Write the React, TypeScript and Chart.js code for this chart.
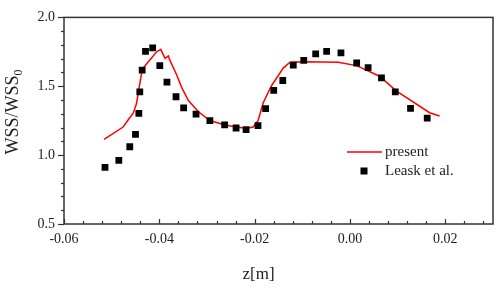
import React, { useEffect, useRef } from 'react';
import { Chart, registerables } from 'chart.js';

Chart.register(...registerables);

// ---- data ----
const presentZ = [-0.0516, -0.0476, -0.0463, -0.0455, -0.0448, -0.0444, -0.0437, -0.0432, -0.042, -0.0406, -0.0397, -0.0388, -0.0381, -0.0378, -0.0364, -0.0353, -0.0339, -0.0318, -0.0294, -0.0264, -0.024, -0.0218, -0.0203, -0.0193, -0.0182, -0.0165, -0.014, -0.0126, -0.0098, -0.0025, 0.0014, 0.0062, 0.0097, 0.0167, 0.0188];
const presentV = [1.115, 1.204, 1.268, 1.303, 1.373, 1.456, 1.6, 1.64, 1.69, 1.749, 1.768, 1.702, 1.72, 1.69, 1.585, 1.49, 1.396, 1.315, 1.251, 1.22, 1.204, 1.195, 1.204, 1.25, 1.38, 1.502, 1.632, 1.674, 1.678, 1.674, 1.65, 1.573, 1.467, 1.308, 1.284];

const leaskZ = [-0.0514, -0.0485, -0.0462, -0.045, -0.0443, -0.0441, -0.0436, -0.0429, -0.0414, -0.0399, -0.0384, -0.0365, -0.0349, -0.0323, -0.0294, -0.0263, -0.0239, -0.0218, -0.0193, -0.0177, -0.016, -0.0141, -0.0119, -0.0097, -0.0072, -0.0049, -0.0019, 0.0014, 0.0038, 0.0066, 0.0095, 0.0127, 0.0162];
const leaskV = [0.911, 0.962, 1.061, 1.15, 1.303, 1.459, 1.617, 1.753, 1.778, 1.65, 1.53, 1.424, 1.343, 1.298, 1.25, 1.22, 1.197, 1.185, 1.215, 1.338, 1.47, 1.542, 1.653, 1.688, 1.735, 1.754, 1.742, 1.669, 1.636, 1.561, 1.46, 1.34, 1.268];

const xTickValues = [-0.06, -0.04, -0.02, 0.0, 0.02];
const yTickValues = [0.5, 1.0, 1.5, 2.0];
const seriesNames = ['present', 'Leask et al.'];
const xTitle = 'z[m]';
const yTitleMain = 'WSS/WSS';
const yTitleSub = '0';

const SERIF = '"Liberation Serif", "Times New Roman", serif';
const AXIS = '#333333';
const TEXT = '#222222';
const RED = '#ff0000';

const decor = {
  id: 'decor',
  afterDraw(chart: any) {
    const { ctx, chartArea: a, scales } = chart;
    const x = scales.x;
    const y = scales.y;
    ctx.save();
    // frame
    ctx.strokeStyle = AXIS;
    ctx.lineWidth = 1.5;
    ctx.strokeRect(a.left, a.top, a.right - a.left, a.bottom - a.top);
    // x ticks (inward)
    ctx.lineWidth = 1.2;
    for (let i = 0; i <= 22; i++) {
      const v = -0.06 + i * 0.004;
      const px = Math.round(x.getPixelForValue(v)) + 0.5;
      const len = i % 5 === 0 ? 5 : 3;
      ctx.beginPath();
      ctx.moveTo(px, a.bottom);
      ctx.lineTo(px, a.bottom - len);
      ctx.stroke();
    }
    // y ticks (outward)
    for (let i = 0; i <= 15; i++) {
      const v = 0.5 + i * 0.1;
      const py = Math.round(y.getPixelForValue(v)) + 0.5;
      const len = i % 5 === 0 ? 6 : 3;
      ctx.beginPath();
      ctx.moveTo(a.left, py);
      ctx.lineTo(a.left - len, py);
      ctx.stroke();
    }
    // titles
    ctx.fillStyle = TEXT;
    ctx.font = `17px ${SERIF}`;
    ctx.textAlign = 'center';
    ctx.textBaseline = 'alphabetic';
    ctx.fillText(xTitle, 258.5, 279);

    ctx.save();
    ctx.translate(17.5, 112);
    ctx.rotate(-Math.PI / 2);
    ctx.font = `18px ${SERIF}`;
    const mw = ctx.measureText(yTitleMain).width;
    ctx.font = `12px ${SERIF}`;
    const sw = ctx.measureText(yTitleSub).width;
    const total = mw + sw;
    ctx.textAlign = 'left';
    ctx.font = `18px ${SERIF}`;
    ctx.fillText(yTitleMain, -total / 2, 0);
    ctx.font = `12px ${SERIF}`;
    ctx.fillText(yTitleSub, -total / 2 + mw, 4);
    ctx.restore();

    // legend
    ctx.font = `15px ${SERIF}`;
    ctx.textAlign = 'left';
    ctx.textBaseline = 'middle';
    ctx.strokeStyle = RED;
    ctx.lineWidth = 1.5;
    ctx.beginPath();
    ctx.moveTo(347, 152);
    ctx.lineTo(382, 152);
    ctx.stroke();
    ctx.fillStyle = TEXT;
    ctx.fillText(seriesNames[0], 385, 152);
    ctx.fillStyle = '#000';
    ctx.fillRect(364 - 3.5, 171 - 3.5, 7, 7);
    ctx.fillStyle = TEXT;
    ctx.fillText(seriesNames[1], 385, 171);
    ctx.restore();
  },
};

export default function App() {
  const ref = useRef<HTMLCanvasElement | null>(null);
  useEffect(() => {
    document.body.style.margin = '0';
    const canvas = ref.current;
    if (!canvas) return;
    const chart = new Chart(canvas, {
      type: 'scatter',
      data: {
        datasets: [
          {
            label: seriesNames[1],
            data: leaskZ.map((z, i) => ({ x: z, y: leaskV[i] })),
            pointStyle: 'rect',
            pointRadius: 4.8,
            pointBackgroundColor: '#000',
            pointBorderWidth: 0,
            showLine: false,
          },
          {
            label: seriesNames[0],
            data: presentZ.map((z, i) => ({ x: z, y: presentV[i] })),
            showLine: true,
            borderColor: RED,
            borderWidth: 1.5,
            pointRadius: 0,
            tension: 0,
          },
        ],
      },
      options: {
        animation: false,
        responsive: false,
        maintainAspectRatio: false,
        layout: { padding: { top: 11, right: 5, left: 0, bottom: 0 } },
        plugins: { legend: { display: false }, tooltip: { enabled: false } },
        scales: {
          x: {
            type: 'linear',
            min: -0.06,
            max: 0.03,
            grid: { display: false, drawTicks: false },
            border: { display: false },
            afterBuildTicks: (s: any) => {
              s.ticks = xTickValues.map((value) => ({ value }));
            },
            afterFit: (s: any) => {
              s.height = 63;
            },
            ticks: {
              callback: (v: any) => Number(v).toFixed(2),
              font: { family: SERIF, size: 14 },
              color: TEXT,
              padding: 7,
              maxRotation: 0,
              autoSkip: false,
            },
          },
          y: {
            type: 'linear',
            min: 0.5,
            max: 2.0,
            grid: { display: false, drawTicks: false },
            border: { display: false },
            afterBuildTicks: (s: any) => {
              s.ticks = yTickValues.map((value) => ({ value }));
            },
            afterFit: (s: any) => {
              s.width = 64;
            },
            ticks: {
              callback: (v: any) => Number(v).toFixed(1),
              font: { family: SERIF, size: 14 },
              color: TEXT,
              padding: 9,
            },
          },
        },
      },
      plugins: [decor],
    });
    return () => chart.destroy();
  }, []);
  return (
    <div style={{ position: 'absolute', left: 0, top: 0, width: 498, height: 287 }}>
      <canvas ref={ref} width={498} height={287} style={{ display: 'block' }} />
    </div>
  );
}
